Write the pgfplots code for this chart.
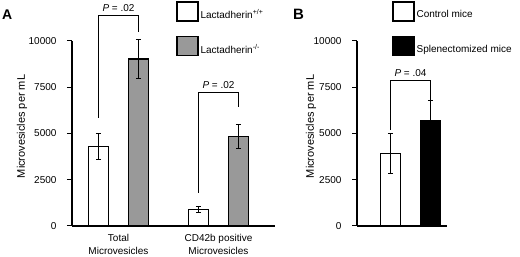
\documentclass[border=0pt]{standalone}
\usepackage{pgfplots}
\pgfplotsset{compat=1.18}
\usepackage{fontspec}
\setmainfont{Liberation Sans}
\definecolor{bargray}{RGB}{153,153,153}
\begin{document}
\begin{tikzpicture}[x=1pt,y=1pt]
\path[use as bounding box] (0,0) rectangle (520,257);
\pgfplotsset{
  common/.style={
    scale only axis, height=185pt, ymin=0, ymax=10000,
    axis x line*=bottom, axis y line*=left,
    axis line style={line width=1.4pt,-},
    ytick={0,2500,5000,7500,10000},
    scaled y ticks=false,
    /pgf/number format/assume math mode=true,
    yticklabel style={/pgf/number format/1000 sep={}, xshift=-7pt},
    tick label style={font=\fontsize{10}{13}\selectfont},
    ytick style={line width=1pt, black},
    tick align=outside, major tick length=5pt,
    xtick style={draw=none},
    xticklabel style={align=center},
    clip=false,
    ybar=20pt, bar width=20pt,
    error bars/error bar style={line width=1pt, black},
    error bars/error mark options={black, rotate=90, mark size=2.6pt, line width=1pt},
    ylabel={Microvesicles per mL},
    label style={font=\fontsize{11}{13}\selectfont},
    legend style={draw=none, fill=none, inner sep=0pt, anchor=north west,
      row sep=14pt, font=\fontsize{10}{12}\selectfont,
      /tikz/every even column/.append style={column sep=6pt}},
    legend cell align=left,
  },
  brk/.style={sharp plot, no marks, black, line width=0.9pt, forget plot, bar shift=0pt},
}
\begin{axis}[common, at={(72pt,31pt)}, anchor=south west, width=203pt,
  xmin=0.535, xmax=2.565, xtick={1,2},
  xticklabels={{Total\\Microvesicles},{CD42b positive\\Microvesicles}},
  ylabel style={at={(axis description cs:-0.246,0.538)}, anchor=center},
  legend style={at={(rel axis cs:0.512,1.216)}}]
\addplot[fill=white, draw=black, line width=1.4pt,
  error bars/.cd, y dir=both, y explicit,
  /pgfplots/legend image code/.code={\draw[fill=white,draw=black,line width=1.4pt] (0pt,-6pt) rectangle (21pt,13pt);}]
  coordinates {(1,4300) +- (0,700) (2,900) +- (0,180)};
\addlegendentry{Lactadherin\textsuperscript{+/+}}
\addplot[fill=bargray, draw=black, line width=1.4pt,
  error bars/.cd, y dir=both, y explicit,
  /pgfplots/legend image code/.code={\draw[fill=bargray,draw=black,line width=1.4pt] (0pt,-6pt) rectangle (21pt,13pt);}]
  coordinates {(1,9030) +- (0,1060) (2,4830) +- (0,660)};
\addlegendentry{Lactadherin\textsuperscript{-/-}}
\addplot[brk] coordinates {(0.8,5838) (0.8,11405) (1.2,11405) (1.2,10486)};
\addplot[brk] coordinates {(1.8,1784) (1.8,7243) (2.2,7243) (2.2,6432)};
\node[anchor=south, font=\fontsize{10}{12}\selectfont, inner sep=3pt] at (axis cs:1,11405) {\textit{P} = .02};
\node[anchor=south, font=\fontsize{10}{12}\selectfont, inner sep=3pt] at (axis cs:2,7243) {\textit{P} = .02};
\end{axis}
\begin{axis}[common, at={(357pt,31pt)}, anchor=south west, width=90pt,
  xmin=0.465, xmax=1.365, xtick={1}, xticklabels={{}},
  ylabel style={at={(axis description cs:-0.511,0.538)}, anchor=center},
  legend style={at={(rel axis cs:0.389,1.216)}}]
\addplot[fill=white, draw=black, line width=1.4pt,
  error bars/.cd, y dir=both, y explicit,
  /pgfplots/legend image code/.code={\draw[fill=white,draw=black,line width=1.4pt] (0pt,-6pt) rectangle (21pt,13pt);}]
  coordinates {(1,3920) +- (0,1070)};
\addlegendentry{Control mice}
\addplot[fill=black, draw=black, line width=1.4pt,
  error bars/.cd, y dir=both, y explicit,
  /pgfplots/legend image code/.code={\draw[fill=black,draw=black,line width=1.4pt] (0pt,-6pt) rectangle (21pt,13pt);}]
  coordinates {(1,5690) +- (0,1120)};
\addlegendentry{Splenectomized mice}
\addplot[brk] coordinates {(0.8,5189) (0.8,7892) (1.2,7892) (1.2,6810)};
\node[anchor=south, font=\fontsize{10}{12}\selectfont, inner sep=3pt] at (axis cs:1,7892) {\textit{P} = .04};
\end{axis}
\node[anchor=base west, font=\bfseries\fontsize{14}{14}\selectfont, inner sep=0pt] at (2,237) {A};
\node[anchor=base west, font=\bfseries\fontsize{15}{15}\selectfont, inner sep=0pt] at (293,237) {B};
\end{tikzpicture}
\end{document}
